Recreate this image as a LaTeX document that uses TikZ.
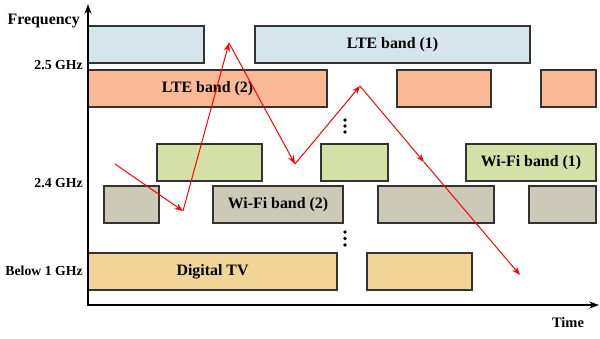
\documentclass[tikz,border=0pt]{standalone}
\usepackage{fontspec}
\setmainfont{Liberation Serif}
\usetikzlibrary{arrows.meta}
\definecolor{lteone}{HTML}{D6E5EC}
\definecolor{ltetwo}{HTML}{FBB995}
\definecolor{wifione}{HTML}{D4E0A5}
\definecolor{wifitwo}{HTML}{CDC9B8}
\definecolor{dtv}{HTML}{F2D596}
\begin{document}
\begin{tikzpicture}[x=0.025cm,y=-0.025cm]
    \tikzstyle{band}=[draw=black!80, line width=0.8pt, minimum height=0.925cm, inner sep=0pt, font=\fontsize{11.3}{13}\selectfont\bfseries]
    \tikzstyle{tick}=[anchor=east, inner sep=0pt, font=\fontsize{9.8}{11}\selectfont\bfseries]
    \tikzstyle{hop}=[red, line width=0.7pt, -{Stealth[length=6pt,width=4.5pt]}]
    \tikzstyle{dot}=[circle, fill=black, minimum size=2.6pt, inner sep=0pt]
    \useasboundingbox (0,0) rectangle (600,338);
    % LTE band (1)
    \node[band, fill=lteone, minimum width=2.9cm] (lte1a) at (146,44.5){};
    \node[band, fill=lteone, minimum width=6.875cm] (lte1b) at (392.5,44.5){LTE band (1)};
    % LTE band (2)
    \node[band, fill=ltetwo, minimum width=5.975cm] (lte2a) at (207.5,88.5){LTE band (2)};
    \node[band, fill=ltetwo, minimum width=2.35cm] (lte2b) at (444,88.5){};
    \node[band, fill=ltetwo, minimum width=1.375cm] (lte2c) at (568.5,88.5){};
    % Wi-Fi band (1)
    \node[band, fill=wifione, minimum width=2.625cm] (wifi1a) at (209.5,162.5){};
    \node[band, fill=wifione, minimum width=1.675cm] (wifi1b) at (354.5,162.5){};
    \node[band, fill=wifione, minimum width=3.25cm] (wifi1c) at (531,162.5){Wi-Fi band (1)};
    % Wi-Fi band (2)
    \node[band, fill=wifitwo, minimum width=1.375cm] (wifi2a) at (131.5,204.5){};
    \node[band, fill=wifitwo, minimum width=3.25cm] (wifi2b) at (278,204.5){Wi-Fi band (2)};
    \node[band, fill=wifitwo, minimum width=2.9cm] (wifi2c) at (436,204.5){};
    \node[band, fill=wifitwo, minimum width=1.675cm] (wifi2d) at (562.5,204.5){};
    % Digital TV
    \node[band, fill=dtv, minimum width=6.225cm] (tva) at (212.5,271.5){Digital TV};
    \node[band, fill=dtv, minimum width=2.625cm] (tvb) at (419.5,271.5){};
    % gaps
    \foreach \k in {0,1,2}{
      \node[dot] (gapa\k) at (345,120+6*\k){};
      \node[dot] (gapb\k) at (345,232+6.5*\k){};
    }
    % axes
    \coordinate (ytop) at (88,4);
    \coordinate (origin) at (88,305);
    \coordinate (xend) at (599,305);
    \draw[line width=0.9pt, {Stealth[length=7pt,width=5pt]}-{Stealth[length=7pt,width=5pt]}] (ytop) -- (origin) -- (xend);
    \node[tick, font=\fontsize{11.3}{13}\selectfont\bfseries] (freq) at (80,21.5){Frequency};
    \node[tick] (f25) at (83,65.5){2.5 GHz};
    \node[tick] (f24) at (83,183){2.4 GHz};
    \node[tick] (f1) at (83,270.5){Below 1 GHz};
    \node[tick, anchor=center, font=\fontsize{10.3}{12}\selectfont\bfseries] (time) at (568,323){Time};
    % hopping path
    \coordinate (w0) at (115,164);
    \coordinate (w1) at (183,211);
    \coordinate (w2) at (229,43);
    \coordinate (w3) at (295,164);
    \coordinate (w4) at (360,86);
    \coordinate (w5) at (424,162);
    \coordinate (w6) at (520,275);
    \draw[hop] (w0) -- (w1);
    \draw[hop] (w1) -- (w2);
    \draw[hop] (w2) -- (w3);
    \draw[hop] (w3) -- (w4);
    \draw[hop] (w4) -- (w5);
    \draw[hop] (w5) -- (w6);
    %\draw[hop] (w0) -- (w6);
  \end{tikzpicture}
\end{document}
